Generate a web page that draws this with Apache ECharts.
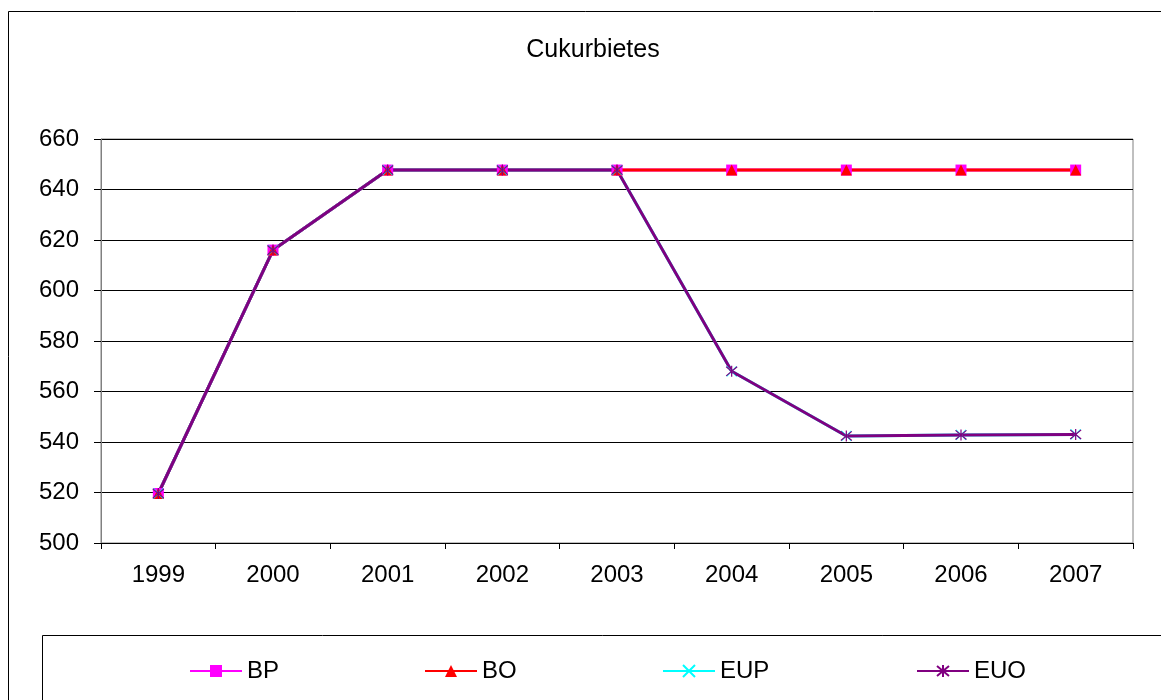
<!DOCTYPE html>
<html>
<head>
<meta charset="utf-8">
<script src="https://cdn.jsdelivr.net/npm/echarts@6/dist/echarts.min.js"></script>
<style>
  html, body { margin: 0; padding: 0; background: #fff; }
  #chart { width: 1161px; height: 700px; }
</style>
</head>
<body>
<div id="chart"></div>
<script>
// Years on the category axis
const years = ['1999', '2000', '2001', '2002', '2003', '2004', '2005', '2006', '2007'];

// Series values
const bp  = [519.6, 616, 647.7, 647.7, 647.7, 647.7, 647.7, 647.7, 647.7];
const bo  = [519.6, 616, 647.7, 647.7, 647.7, 647.7, 647.7, 647.7, 647.7];
const eup = [519.6, 616, 647.7, 647.7, 647.7, 568, 542.4, 542.8, 543];
const euo = [519.6, 616, 647.7, 647.7, 647.7, 568, 542.4, 542.8, 543];

// Value axis range
const yMin = 500, yMax = 660, yStep = 20;

const FONT = 'Liberation Sans, Arial, sans-serif';
const starPath = 'path://M0,0L10,10M10,0L0,10M5,-1L5,11';
const crossPath = 'path://M0,0L10,10M10,0L0,10';

const chart = echarts.init(document.getElementById('chart'), null, { renderer: 'canvas' });

function legendAt(name, left) {
  return {
    data: [name],
    left: left,
    top: 659,
    padding: 0,
    itemWidth: 52,
    itemHeight: 15,
    textStyle: { fontFamily: FONT, fontSize: 24, color: '#000' },
    selectedMode: false
  };
}

chart.setOption({
  animation: false,
  backgroundColor: '#fff',
  title: {
    text: 'Cukurbietes',
    left: 588,
    textAlign: 'center',
    top: 33,
    textStyle: { fontFamily: FONT, fontSize: 25, fontWeight: 'normal', color: '#000' }
  },
  graphic: [
    { type: 'rect', shape: { x: 8.5, y: 11.5, width: 1300, height: 900 },
      style: { fill: 'none', stroke: '#000', lineWidth: 1 }, silent: true, z: -10 },
    { type: 'rect', shape: { x: 42.5, y: 635.5, width: 1300, height: 300 },
      style: { fill: 'none', stroke: '#000', lineWidth: 1 }, silent: true, z: -10 }
  ],
  legend: [
    legendAt('BP', 189),
    legendAt('BO', 424),
    legendAt('EUP', 662),
    legendAt('EUO', 916)
  ],
  grid: {
    left: 101, right: 28, top: 139, bottom: 157,
    show: true, borderColor: '#808080', borderWidth: 1, backgroundColor: '#fff'
  },
  xAxis: {
    type: 'category',
    data: years,
    boundaryGap: true,
    axisLine: { lineStyle: { color: '#000', width: 1 } },
    axisTick: { show: true, length: 6, lineStyle: { color: '#000' } },
    axisLabel: { fontFamily: FONT, fontSize: 24, color: '#000', margin: 20 }
  },
  yAxis: {
    type: 'value',
    min: yMin, max: yMax, interval: yStep,
    axisLine: { show: true, lineStyle: { color: '#808080', width: 1 } },
    axisTick: { show: true, length: 7, lineStyle: { color: '#000' } },
    axisLabel: { fontFamily: FONT, fontSize: 24, color: '#000', margin: 22 },
    splitLine: { show: true, lineStyle: { color: '#000', width: 1 } }
  },
  series: [
    {
      name: 'BP', type: 'line', data: bp,
      symbol: 'rect', symbolSize: 11,
      lineStyle: { color: '#FF00FF', width: 3 },
      itemStyle: { color: '#FF00FF' }
    },
    {
      name: 'BO', type: 'line', data: bo,
      symbol: 'triangle', symbolSize: 11,
      lineStyle: { color: '#FF0000', width: 3 },
      itemStyle: { color: '#FF0000' }
    },
    {
      name: 'EUP', type: 'line', data: eup,
      symbol: crossPath, symbolSize: 10,
      lineStyle: { color: '#00FFFF', width: 3 },
      itemStyle: { color: 'transparent', borderColor: '#00FFFF', borderWidth: 1.2 }
    },
    {
      name: 'EUO', type: 'line', data: euo,
      symbol: starPath, symbolSize: 11,
      lineStyle: { color: '#800080', width: 3 },
      itemStyle: { color: 'transparent', borderColor: '#800080', borderWidth: 1.2 }
    }
  ]
});
</script>
</body>
</html>
